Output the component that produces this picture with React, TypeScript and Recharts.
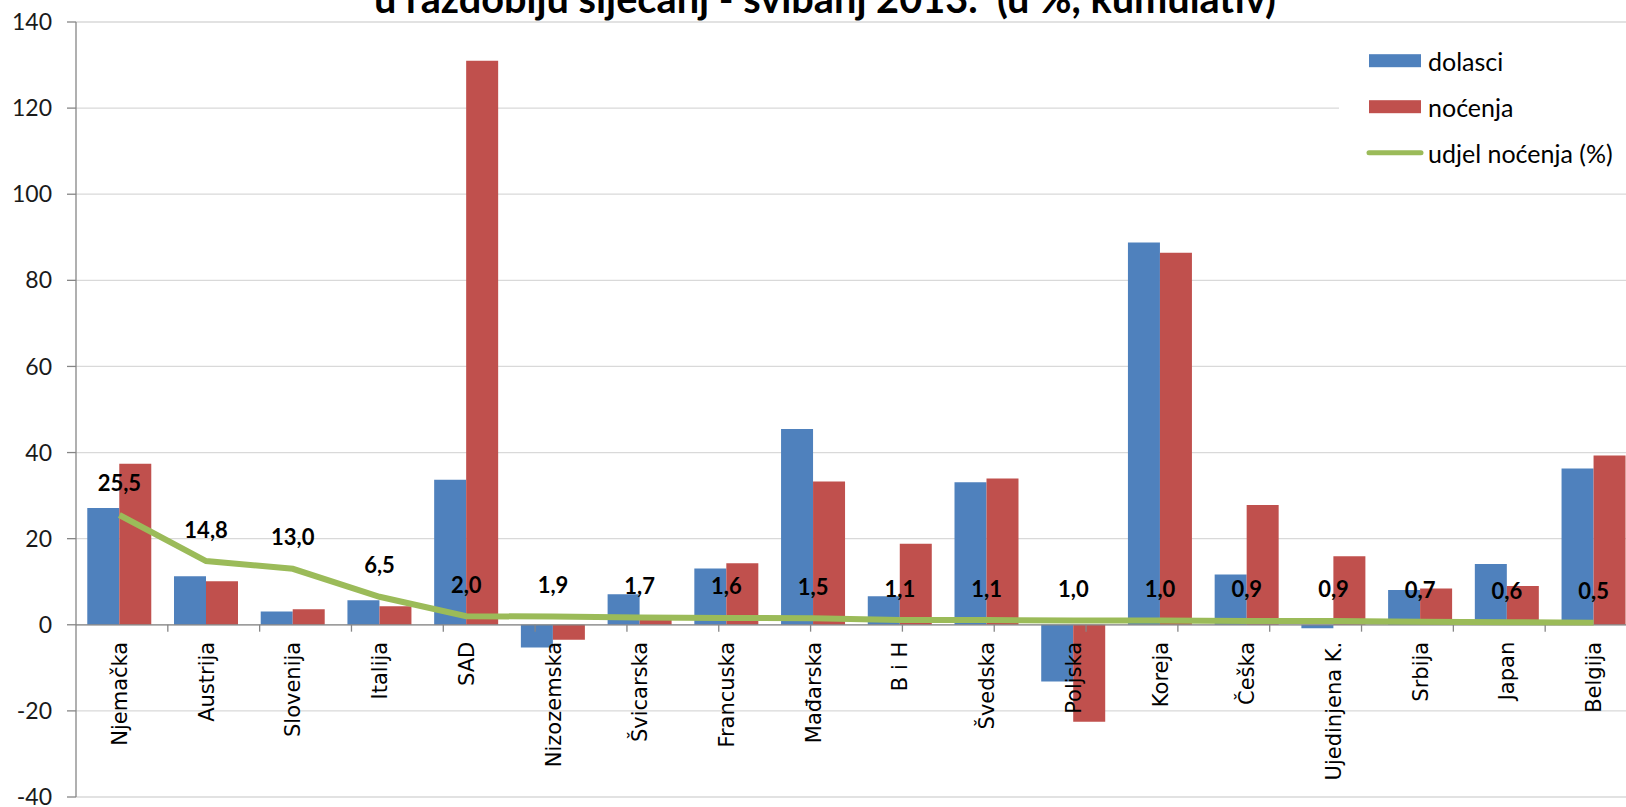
import React from 'react';
import {
  ComposedChart,
  Bar,
  Line,
  XAxis,
  YAxis,
  CartesianGrid,
  ReferenceLine,
  LabelList,
  Legend,
} from 'recharts';

const categories = [
  'Njemačka', 'Austrija', 'Slovenija', 'Italija', 'SAD', 'Nizozemska', 'Švicarska', 'Francuska', 'Mađarska',
  'B i H', 'Švedska', 'Poljska', 'Koreja', 'Češka', 'Ujedinjena K.', 'Srbija', 'Japan', 'Belgija',
];
const dolasci = [27.1, 11.3, 3.1, 5.7, 33.7, -5.3, 7.1, 13.1, 45.5, 6.6, 33.1, -13.2, 88.8, 11.7, -0.8, 8.1, 14.1, 36.3];
const nocenja = [37.4, 10.1, 3.6, 4.3, 131.0, -3.5, 1.6, 14.3, 33.3, 18.8, 34.0, -22.5, 86.4, 27.8, 15.9, 8.4, 9.0, 39.3];
const udjel = [25.5, 14.8, 13.0, 6.5, 2.0, 1.9, 1.7, 1.6, 1.5, 1.1, 1.1, 1.0, 1.0, 0.9, 0.9, 0.7, 0.6, 0.5];
const yTicks = [-40, -20, 0, 20, 40, 60, 80, 100, 120, 140];
const titleText = 'u razdoblju siječanj - svibanj 2013.\u00A0 (u %, kumulativ)';

const BLUE = '#4F81BD';
const RED = '#C0504D';
const GREEN = '#9BBB59';

const seriesNames = ['dolasci', 'noćenja', 'udjel noćenja (%)'];

const data = categories.map((name, i) => ({
  name,
  dolasci: dolasci[i],
  nocenja: nocenja[i],
  udjel: udjel[i],
  base: 0,
}));

const boundaries = categories.slice(1).map((_, i) => i + 1);

const getXY = (p: any) => {
  const x = p.x ?? p.viewBox?.x ?? 0;
  const y = p.y ?? p.viewBox?.y ?? 0;
  return { x, y };
};

const CategoryLabel = (p: any) => {
  const { x, y } = getXY(p);
  const ty = y + 17;
  return (
    <text
      x={x}
      y={ty}
      transform={`rotate(-90 ${x} ${ty})`}
      textAnchor="end"
      dy="0.36em"
      fontFamily="DejaVu Sans"
      fontSize={21}
      fill="#000"
    >
      {p.value}
    </text>
  );
};

const ValueLabel = (p: any) => {
  const { x, y } = getXY(p);
  const v = Number(p.value).toFixed(1).replace('.', ',');
  return (
    <text
      x={x}
      y={y - 32}
      textAnchor="middle"
      dominantBaseline="central"
      fontFamily="Lato"
      fontWeight="bold"
      fontSize={22}
      fill="#000"
    >
      {v}
    </text>
  );
};

const LegendBox = () => {
  const colors = [BLUE, RED, GREEN];
  return (
    <svg width={290} height={160} style={{ display: 'block' }}>
      {seriesNames.map((n, i) => {
        const cy = 34.7 + i * 46;
        return (
          <g key={n}>
            {i < 2 ? (
              <rect x={30} y={cy - 6.5} width={52} height={13} fill={colors[i]} />
            ) : (
              <line x1={30} x2={82} y1={cy} y2={cy} stroke={colors[i]} strokeWidth={5} strokeLinecap="round" />
            )}
            <text x={89} y={cy} dominantBaseline="central" fontFamily="Lato" fontSize={25} fill="#000">
              {n}
            </text>
          </g>
        );
      })}
    </svg>
  );
};

export default function App() {
  return (
    <div
      style={{
        position: 'fixed',
        left: 0,
        top: 0,
        width: 1626,
        height: 807,
        overflow: 'hidden',
        background: '#fff',
      }}
    >
      <ComposedChart
        width={1660}
        height={807}
        data={data}
        margin={{ top: 22, right: 23, bottom: 10, left: 0 }}
        barCategoryGap="13%"
        barGap={0}
      >
        <CartesianGrid vertical={false} stroke="#D9D9D9" strokeWidth={1.3} />
        <XAxis dataKey="name" hide />
        <XAxis xAxisId="b" type="number" domain={[0, 18]} hide allowDataOverflow />
        <YAxis
          domain={[-40, 140]}
          ticks={yTicks}
          interval={0}
          width={76}
          tickSize={9}
          tickMargin={15}
          allowDataOverflow
          axisLine={{ stroke: '#868686', strokeWidth: 1.3 }}
          tickLine={{ stroke: '#868686', strokeWidth: 1.3 }}
          tick={{ fontFamily: 'Lato', fontSize: 23, fill: '#1a1a1a' }}
        />
        <Legend
          layout="vertical"
          align="center"
          verticalAlign="middle"
          wrapperStyle={{ left: 1339, top: 26, width: 290, height: 160, background: '#fff' }}
          content={() => <LegendBox />}
        />
        <Bar dataKey="dolasci" name={seriesNames[0]} fill={BLUE} isAnimationActive={false} />
        <Bar dataKey="nocenja" name={seriesNames[1]} fill={RED} isAnimationActive={false} />
        <ReferenceLine y={0} stroke="#868686" strokeWidth={1.3} />
        {boundaries.map((b) => (
          <ReferenceLine
            key={b}
            xAxisId="b"
            segment={[
              { x: b, y: 0 },
              { x: b, y: -1.6 },
            ]}
            stroke="#868686"
            strokeWidth={1.3}
          />
        ))}
        <Line
          dataKey="base"
          stroke="none"
          dot={false}
          activeDot={false}
          legendType="none"
          isAnimationActive={false}
        >
          <LabelList dataKey="name" content={CategoryLabel} />
        </Line>
        <Line
          dataKey="udjel"
          name={seriesNames[2]}
          stroke={GREEN}
          strokeWidth={6}
          dot={false}
          activeDot={false}
          isAnimationActive={false}
        >
          <LabelList dataKey="udjel" content={ValueLabel} />
        </Line>
      </ComposedChart>
      <svg
        width={1626}
        height={40}
        style={{ position: 'absolute', left: 0, top: 0, pointerEvents: 'none' }}
      >
        <text x={825} y={13} textAnchor="middle" fontFamily="Lato" fontWeight="bold" fontSize={39.7} fill="#000">
          {titleText}
        </text>
      </svg>
    </div>
  );
}
